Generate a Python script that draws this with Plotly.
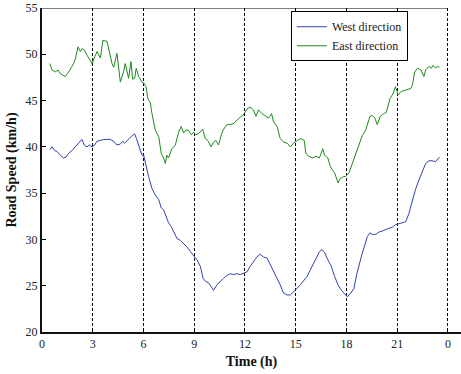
import plotly.graph_objects as go

# ---- data ----
east_t = [0.47, 0.59, 0.79, 0.95, 1.08, 1.38, 1.58, 1.87, 1.97, 2.13, 2.27, 2.36, 2.5, 2.66, 2.96,
          3.11, 3.25, 3.45, 3.6, 3.84, 4.0, 4.14, 4.24, 4.43, 4.63, 4.73, 4.82, 4.92, 5.02, 5.12,
          5.26, 5.36, 5.48, 5.57, 5.71, 5.91, 6.01, 6.15, 6.26, 6.4, 6.5, 6.7, 6.9, 7.05, 7.19,
          7.29, 7.38, 7.48, 7.68, 7.88, 8.08, 8.23, 8.37, 8.51, 8.66, 8.83, 8.96, 9.1, 9.3, 9.5,
          9.65, 9.8, 9.99, 10.14, 10.28, 10.44, 10.6, 10.7, 10.93, 11.1, 11.3, 11.52, 11.72, 11.88,
          12.12, 12.3, 12.5, 12.65, 12.8, 13.0, 13.2, 13.4, 13.57, 13.69, 13.9, 14.08, 14.3, 14.5,
          14.68, 14.87, 15.1, 15.3, 15.5, 15.6, 15.75, 16.0, 16.2, 16.4, 16.6, 16.7, 16.9, 17.04,
          17.2, 17.3, 17.5, 17.6, 17.83, 17.95, 18.15, 18.34, 18.54, 18.74, 18.93, 19.13, 19.39,
          19.52, 19.68, 19.82, 20.0, 20.2, 20.35, 20.57, 20.77, 20.9, 21.05, 21.25, 21.44, 21.64,
          21.8, 21.9, 22.03, 22.2, 22.4, 22.58, 22.68, 22.88, 23.01, 23.13, 23.27, 23.37, 23.5]
east_v = [49.0, 48.3, 48.1, 48.3, 47.9, 47.6, 48.1, 49.0, 49.5, 50.8, 50.3, 50.6, 50.5, 49.9, 49.0,
          49.7, 50.3, 49.6, 51.5, 51.4, 50.1, 49.0, 48.6, 50.1, 47.0, 47.6, 48.1, 49.0, 48.3, 47.4,
          49.2, 47.3, 47.4, 48.5, 47.6, 47.0, 46.9, 46.5, 45.2, 44.8, 43.6, 41.8, 41.1, 39.3, 38.8,
          38.2, 39.1, 38.8, 39.8, 40.2, 41.6, 42.2, 41.5, 41.8, 41.8, 41.3, 41.6, 41.3, 41.5, 41.9,
          40.9, 40.7, 40.0, 40.5, 40.7, 40.2, 41.3, 41.8, 42.4, 42.4, 42.5, 42.9, 43.2, 43.4,
          44.1, 44.3, 44.0, 43.3, 44.0, 43.6, 43.3, 43.1, 43.6, 42.7, 42.2, 40.9, 40.5, 40.4,
          40.0, 40.4, 40.7, 40.9, 40.7, 39.3, 39.0, 38.8, 39.0, 38.8, 39.8, 39.1, 38.8, 37.9,
          37.4, 37.2, 36.1, 36.5, 36.8, 36.8, 37.2, 38.2, 39.1, 40.2, 41.2, 41.8, 43.3,
          43.4, 43.1, 42.4, 43.3, 43.6, 43.7, 45.2, 45.8, 46.5, 45.6, 46.0, 46.1, 46.2,
          46.3, 46.7, 48.1, 48.5, 48.3, 47.6, 48.3, 48.7, 48.5, 48.8, 48.5, 48.7, 48.6]

west_t = [0.47, 0.59, 0.75, 0.89, 1.08, 1.28, 1.42, 1.58, 1.77, 1.93, 2.07, 2.27, 2.36, 2.5, 2.66,
          2.8, 2.96, 3.11, 3.25, 3.45, 3.65, 3.84, 4.04, 4.24, 4.43, 4.63, 4.77, 4.88, 5.02, 5.16,
          5.32, 5.48, 5.6, 5.77, 5.91, 6.01, 6.15, 6.3, 6.5, 6.7, 6.9, 7.05, 7.19, 7.33, 7.48,
          7.64, 7.78, 7.98, 8.18, 8.37, 8.56, 8.77, 8.96, 9.16, 9.36, 9.52, 9.65, 9.85, 10.0,
          10.14, 10.34, 10.54, 10.73, 10.93, 11.13, 11.33, 11.52, 11.72, 11.88, 12.12, 12.31,
          12.5, 12.7, 12.9, 13.1, 13.3, 13.5, 13.69, 13.89, 14.08, 14.28, 14.48, 14.68, 14.87,
          15.07, 15.27, 15.47, 15.67, 15.86, 16.06, 16.26, 16.41, 16.55, 16.7, 16.9, 17.1, 17.3,
          17.5, 17.7, 17.83, 17.95, 18.05, 18.25, 18.44, 18.6, 18.74, 18.93, 19.07, 19.23, 19.39,
          19.58, 19.78, 19.92, 20.1, 20.31, 20.5, 20.7, 20.9, 21.1, 21.3, 21.5, 21.69, 21.89,
          22.08, 22.28, 22.48, 22.68, 22.88, 23.07, 23.27, 23.5]
west_v = [39.7, 40.0, 39.6, 39.5, 39.1, 38.8, 38.9, 39.3, 39.6, 39.9, 40.2, 40.6, 40.8, 40.2, 40.0,
          40.2, 40.0, 40.2, 40.6, 40.7, 40.8, 40.8, 40.8, 40.6, 40.2, 40.3, 40.6, 40.4, 40.7, 40.9,
          41.2, 41.4, 40.8, 39.9, 39.1, 39.1, 37.9, 36.8, 35.5, 34.8, 34.3, 33.4, 33.2, 32.5, 31.8,
          31.4, 30.9, 30.1, 29.9, 29.6, 29.2, 28.7, 28.3, 27.8, 27.1, 25.8, 25.5, 25.3, 24.9,
          24.5, 25.1, 25.5, 25.8, 26.1, 26.3, 26.2, 26.3, 26.2, 26.3, 26.5, 27.1,
          27.6, 28.1, 28.4, 28.1, 28.0, 27.3, 26.6, 25.8, 25.1, 24.2, 24.0, 24.0, 24.3,
          24.7, 25.1, 25.5, 26.0, 26.7, 27.4, 28.1, 28.7, 28.9, 28.6, 27.8, 27.1, 26.0,
          25.1, 24.5, 24.2, 24.0, 23.8, 24.2, 24.7, 26.2, 27.3, 28.5, 29.3, 30.3, 30.7,
          30.5, 30.6, 30.8, 30.9, 31.1, 31.2, 31.3, 31.6, 31.7, 31.8, 31.9, 32.8, 34.3,
          35.4, 36.4, 37.3, 38.2, 38.5, 38.5, 38.4, 38.9]

x_ticks = [0, 3, 6, 9, 12, 15, 18, 21, 24]
x_tick_labels = ["0", "3", "6", "9", "12", "15", "18", "21", "0"]
y_ticks = [20, 25, 30, 35, 40, 45, 50, 55]

FONT = "Liberation Serif"

fig = go.Figure()
fig.add_trace(go.Scatter(x=west_t, y=west_v, mode="lines", name="West direction",
                         line=dict(color="#2f42b0", width=1)))
fig.add_trace(go.Scatter(x=east_t, y=east_v, mode="lines", name="East direction",
                         line=dict(color="#1d8a1d", width=1)))

# top border (stops at the last hour)
fig.add_shape(type="line", xref="x", yref="y", x0=0, x1=24, y0=55, y1=55,
              line=dict(color="black", width=1))

fig.update_layout(
    width=461, height=374,
    margin=dict(l=42, r=0, t=8, b=42),
    paper_bgcolor="white", plot_bgcolor="white",
    font=dict(family=FONT, size=12, color="#222"),
    showlegend=True,
    legend=dict(x=0.594, y=0.99, xanchor="left", yanchor="top",
                bgcolor="white", bordercolor="black", borderwidth=1,
                font=dict(family=FONT, size=12, color="#222"),
                tracegroupgap=0, itemwidth=30),
    xaxis=dict(range=[0, 24.77], tickmode="array", tickvals=x_ticks, ticktext=x_tick_labels,
               ticks="inside", ticklen=4, tickcolor="black",
               tickfont=dict(family=FONT, size=12, color="#222"),
               showline=True, linecolor="#111", linewidth=2, mirror=False,
               showgrid=True, gridcolor="black", griddash="3px,2px", gridwidth=1,
               zeroline=False,
               title=dict(text="<b>Time (h)</b>", font=dict(family=FONT, size=14, color="#111"),
                          standoff=6)),
    yaxis=dict(range=[20, 55], tickmode="array", tickvals=y_ticks,
               ticks="inside", ticklen=4, tickcolor="black",
               tickfont=dict(family=FONT, size=12, color="#222"),
               showline=True, linecolor="#111", linewidth=2,
               showgrid=False, zeroline=False,
               title=dict(text="<b>Road Speed (km/h)</b>", font=dict(family=FONT, size=14, color="#111"),
                          standoff=6)),
    yaxis2=dict(range=[20, 55], overlaying="y", side="right", tickmode="array", tickvals=y_ticks,
                ticks="inside", ticklen=4, tickcolor="black", showticklabels=False,
                showline=False, showgrid=False, zeroline=False),
)

fig.write_html("out.html")
